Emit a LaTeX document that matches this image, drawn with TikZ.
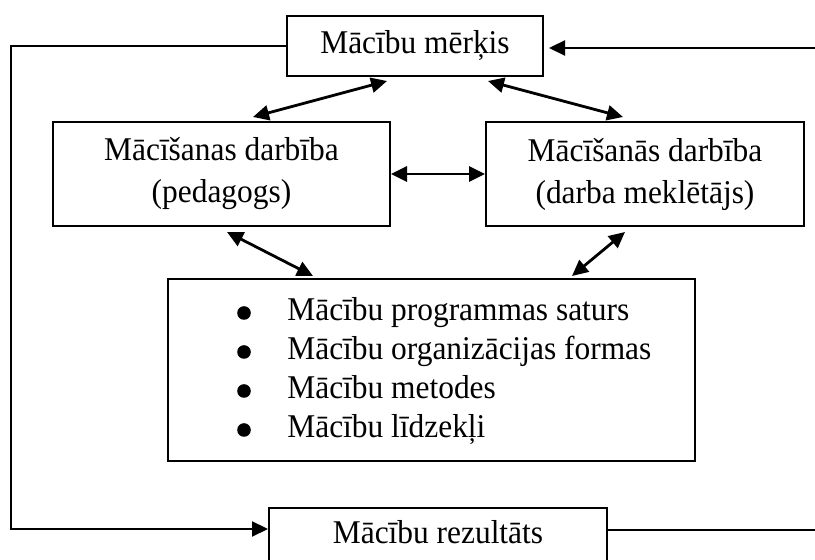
\documentclass[tikz,border=0pt]{standalone}
\usepackage{fontspec}
\setmainfont{Liberation Serif}[FakeStretch=0.946]
\usetikzlibrary{calc,arrows.meta}

\begin{document}
\begin{tikzpicture}[x=0.5pt, y=-0.5pt, font=\fontsize{16.6pt}{21pt}\selectfont,
  box/.style={draw, line width=1pt, align=center, inner sep=0pt},
  twoway/.style={{Triangle[length=8pt,width=7.5pt]}-{Triangle[length=8pt,width=7.5pt]}, line width=1.4pt},
  oneway/.style={-{Triangle[length=8pt,width=7.5pt]}, line width=1.1pt},
  wire/.style={line width=1.1pt}]
  \useasboundingbox (0,0) rectangle (815,560);

  % Boxes
  \node[box, minimum width=128pt, minimum height=30pt] (goal) at (415,46) {Mācību mērķis};
  \node[box, minimum width=168.5pt, minimum height=52pt] (teach) at (221.5,174) {Mācīšanas darbība\\(pedagogs)};
  \node[box, minimum width=159pt, minimum height=52pt] (learn) at (645,174) {Mācīšanās darbība\\(darba meklētājs)};
  \node[box, minimum width=263.5pt, minimum height=91pt] (content) at (431.5,370) {};
  \node[box, anchor=north, minimum width=169pt, text height=18pt, text depth=40pt] (result) at (438,507) {Mācību rezultāts};

  % List
  \foreach \txt [count=\k from 0] in {Mācību programmas saturs, Mācību organizācijas formas, Mācību metodes, Mācību līdzekļi} {
    \fill (244,313+39*\k) circle (3.4pt);
    \node[anchor=base west, inner sep=0pt] (item\k) at (287,321+39*\k) {\txt};
  }

  % Arrows
  \draw[twoway] ($(goal.south)+(-28,4)$) -- ($(teach.north)+(31.5,-4)$);
  \draw[twoway] ($(goal.south)+(73,4)$) -- ($(learn.north)+(-22,-4)$);
  \draw[twoway] (teach.east) -- (learn.west);
  \draw[twoway] ($(teach.south)+(5.5,5)$) -- ($(content.north)+(-118.5,-2)$);
  \draw[twoway] ($(learn.south)+(-20,5)$) -- ($(content.north)+(140.5,-2)$);

  % Feedback loop
  \coordinate (corner) at (11,529);
  \coordinate (topin) at (815,48);
  \coordinate (botout) at (815,530);
  \draw[oneway] (goal.west) -| (corner) -- (corner -| result.west);
  \draw[oneway, shorten >=2.5pt] (topin) -- (topin -| goal.east);
  \draw[wire] (result.east |- botout) -- (botout);
\end{tikzpicture}
\end{document}
